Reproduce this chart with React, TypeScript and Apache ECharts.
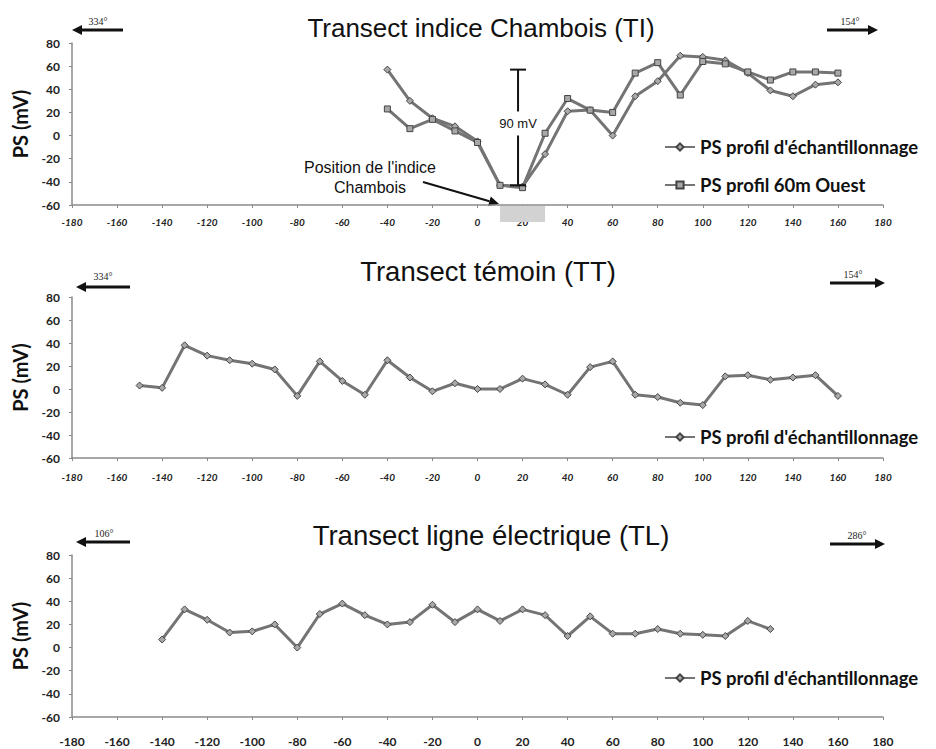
import React, { useEffect, useRef } from "react";
import * as echarts from "echarts";

// ---------- data ----------
const tiX = [-40, -30, -20, -10, 0, 10, 20, 30, 40, 50, 60, 70, 80, 90, 100, 110, 120, 130, 140, 150, 160];
const tiEchantillonnage = [57, 30, 15, 8, -5, -43, -44, -16, 21, 22, 0, 34, 47, 69, 68, 65, 54, 39, 34, 44, 46];
const tiOuest = [23, 6, 14, 4, -6, -43, -45, 2, 32, 22, 20, 54, 63, 35, 64, 62, 55, 48, 55, 55, 54];

const ttX = [-150, -140, -130, -120, -110, -100, -90, -80, -70, -60, -50, -40, -30, -20, -10, 0, 10, 20, 30, 40, 50, 60, 70, 80, 90, 100, 110, 120, 130, 140, 150, 160];
const ttEchantillonnage = [3, 1, 38, 29, 25, 22, 17, -6, 24, 7, -5, 25, 10, -2, 5, 0, 0, 9, 4, -5, 19, 24, -5, -7, -12, -14, 11, 12, 8, 10, 12, -6];

const tlX = [-140, -130, -120, -110, -100, -90, -80, -70, -60, -50, -40, -30, -20, -10, 0, 10, 20, 30, 40, 50, 60, 70, 80, 90, 100, 110, 120, 130];
const tlEchantillonnage = [7, 33, 24, 13, 14, 20, 0, 29, 38, 28, 20, 22, 37, 22, 33, 23, 33, 28, 10, 27, 12, 12, 16, 12, 11, 10, 23, 16];

const titles = ["Transect indice Chambois (TI)", "Transect témoin (TT)", "Transect ligne électrique (TL)"];
const bearingsLeft = ["334°", "334°", "106°"];
const bearingsRight = ["154°", "154°", "286°"];
const nameEch = "PS profil d'échantillonnage";
const nameOuest = "PS profil 60m Ouest";
const yName = "PS (mV)";
const annotationText = ["Position de l'indice", "Chambois"];
const barLabel = "90 mV";

// ---------- layout ----------
const GRID_LEFT = 72;
const GRID_W = 811;
const grids = [
  { top: 43, height: 162 },
  { top: 297, height: 161 },
  { top: 555, height: 162 },
];
const titleTops = [15, 257, 521];
const titleX = [481, 488, 491];
const titleSizes = [26, 27.5, 27.5];
const xLabelMargins = [12, 14, 18];
const arrowsL = [
  { y: 30, x1: 72, x2: 123, tx: 98, ty: 21 },
  { y: 287, x1: 76, x2: 130, tx: 103, ty: 276 },
  { y: 542, x1: 76, x2: 130, tx: 104, ty: 533 },
];
const arrowsR = [
  { y: 30, x1: 827, x2: 878, tx: 850, ty: 21 },
  { y: 283, x1: 830, x2: 885, tx: 853, ty: 274 },
  { y: 544, x1: 830, x2: 885, tx: 857, ty: 535 },
];
const legendPos = [
  { name: nameEch, top: 137 },
  { name: nameOuest, top: 175 },
  { name: nameEch, top: 427 },
  { name: nameEch, top: 668 },
];

const LINE_COLOR = "#747474";
const TICK_FONT = "Lato";

function arrowGraphic(x1: number, x2: number, y: number, left: boolean) {
  const tip = left ? x1 : x2;
  const base = left ? x1 + 10 : x2 - 10;
  return [
    {
      type: "line",
      shape: { x1: left ? base : x1, y1: y, x2: left ? x2 : base, y2: y },
      style: { stroke: "#111", lineWidth: 3 },
      silent: true,
    },
    {
      type: "polygon",
      shape: { points: [[tip, y], [base, y - 5], [base, y + 5]] },
      style: { fill: "#111" },
      silent: true,
    },
  ];
}

export default function App() {
  const ref = useRef<HTMLDivElement>(null);

  useEffect(() => {
    if (!ref.current) return;
    const chart = echarts.init(ref.current, null, { renderer: "svg" });

    const xAxes = grids.map((_, i) => ({
      type: "value",
      gridIndex: i,
      min: -180,
      max: 180,
      interval: 20,
      splitLine: { show: false },
      axisLine: { onZero: false, lineStyle: { color: "#8a8a8a", width: 1.5 } },
      axisTick: { show: true, length: 3, lineStyle: { color: "#8a8a8a" } },
      axisLabel: {
        margin: xLabelMargins[i],
        color: "#222",
        fontFamily: TICK_FONT,
        fontSize: i === 2 ? 12 : 10,
        fontStyle: i === 2 ? "normal" : "italic",
        fontWeight: "bold",
      },
    }));

    const yAxes = grids.map((_, i) => ({
      type: "value",
      gridIndex: i,
      min: -60,
      max: 80,
      interval: 20,
      name: yName,
      nameLocation: "middle",
      nameGap: 42,
      nameTextStyle: { fontFamily: TICK_FONT, fontWeight: "bold", fontSize: 20, color: "#111" },
      splitLine: { show: false },
      axisLine: { show: true, onZero: false, lineStyle: { color: "#8a8a8a", width: 1.5 } },
      axisTick: { show: true, length: 3, lineStyle: { color: "#8a8a8a" } },
      axisLabel: { margin: 12, color: "#222", fontFamily: TICK_FONT, fontWeight: "bold", fontSize: 12 },
    }));

    const lineBase = {
      type: "line",
      lineStyle: { color: LINE_COLOR, width: 3 },
      itemStyle: { color: "#a8a8a8", borderColor: "#444", borderWidth: 1 },
      symbolSize: 7,
      showSymbol: true,
      z: 3,
    };

    const series = [
      {
        ...lineBase,
        name: nameEch,
        xAxisIndex: 0,
        yAxisIndex: 0,
        symbol: "diamond",
        data: tiX.map((x, i) => [x, tiEchantillonnage[i]]),
      },
      {
        ...lineBase,
        name: nameOuest,
        xAxisIndex: 0,
        yAxisIndex: 0,
        symbol: "rect",
        symbolSize: 6,
        data: tiX.map((x, i) => [x, tiOuest[i]]),
      },
      {
        ...lineBase,
        name: nameEch,
        xAxisIndex: 1,
        yAxisIndex: 1,
        symbol: "diamond",
        data: ttX.map((x, i) => [x, ttEchantillonnage[i]]),
      },
      {
        ...lineBase,
        name: nameEch,
        xAxisIndex: 2,
        yAxisIndex: 2,
        symbol: "diamond",
        data: tlX.map((x, i) => [x, tlEchantillonnage[i]]),
      },
    ];

    const option: any = {
      animation: false,
      backgroundColor: "#fff",
      title: titles.map((t, i) => ({
        text: t,
        left: titleX[i],
        top: titleTops[i],
        textAlign: "center",
        padding: 0,
        textStyle: { fontFamily: "Liberation Sans", fontWeight: "normal", fontSize: titleSizes[i], color: "#111" },
      })),
      grid: grids.map((g) => ({ left: GRID_LEFT, width: GRID_W, top: g.top, height: g.height })),
      xAxis: xAxes,
      yAxis: yAxes,
      legend: legendPos.map((l) => ({
        data: [l.name],
        left: 664,
        top: l.top,
        padding: 0,
        orient: "vertical",
        itemWidth: 30,
        itemHeight: 9,
        selectedMode: false,
        textStyle: { fontFamily: TICK_FONT, fontWeight: "bold", fontSize: 18.5, color: "#111", lineHeight: 20 },
      })),
      series,
    };

    chart.setOption(option);

    // annotations placed through the axes' own scales
    const p = (x: number, y: number) => chart.convertToPixel({ gridIndex: 0 }, [x, y]) as number[];
    const barBottom = p(18, -43);
    const barTop = p(18, 57);
    const boxA = p(10, -60);
    const boxB = p(30, -60);
    const graphics: any[] = [];

    // 90 mV bar
    const midY = (barTop[1] + barBottom[1]) / 2 - 4;
    graphics.push(
      { type: "line", shape: { x1: barTop[0], y1: barTop[1], x2: barTop[0], y2: midY - 12 }, style: { stroke: "#111", lineWidth: 2 }, z: 10 },
      { type: "line", shape: { x1: barTop[0], y1: midY + 12, x2: barTop[0], y2: barBottom[1] }, style: { stroke: "#111", lineWidth: 2 }, z: 10 },
      { type: "line", shape: { x1: barTop[0] - 8, y1: barTop[1], x2: barTop[0] + 8, y2: barTop[1] }, style: { stroke: "#111", lineWidth: 2 }, z: 10 },
      { type: "line", shape: { x1: barBottom[0] - 8, y1: barBottom[1], x2: barBottom[0] + 8, y2: barBottom[1] }, style: { stroke: "#111", lineWidth: 2 }, z: 10 },
      {
        type: "text",
        x: barTop[0],
        y: midY,
        style: { text: barLabel, fontFamily: "Liberation Sans", fontSize: 13, fill: "#111", align: "center", verticalAlign: "middle" },
        z: 10,
      }
    );

    // shaded position box
    graphics.push({
      type: "rect",
      shape: { x: boxA[0], y: boxA[1] + 1, width: boxB[0] - boxA[0], height: 16 },
      style: { fill: "#d2d2d2" },
      z: 1,
    });

    // annotation text + arrow
    graphics.push(
      {
        type: "text",
        x: 370,
        y: 167,
        style: { text: annotationText[0], fontFamily: "Liberation Sans", fontSize: 16, fill: "#111", align: "center", verticalAlign: "middle" },
      },
      {
        type: "text",
        x: 370,
        y: 187,
        style: { text: annotationText[1], fontFamily: "Liberation Sans", fontSize: 16, fill: "#111", align: "center", verticalAlign: "middle" },
      }
    );
    const ax1 = 423, ay1 = 182;
    const ax2 = boxA[0] - 1, ay2 = boxA[1] - 1;
    const ang = Math.atan2(ay2 - ay1, ax2 - ax1);
    const hb = [ax2 - 10 * Math.cos(ang), ay2 - 10 * Math.sin(ang)];
    graphics.push(
      { type: "line", shape: { x1: ax1, y1: ay1, x2: hb[0], y2: hb[1] }, style: { stroke: "#111", lineWidth: 2 } },
      {
        type: "polygon",
        shape: {
          points: [
            [ax2, ay2],
            [hb[0] + 5 * Math.sin(ang), hb[1] - 5 * Math.cos(ang)],
            [hb[0] - 5 * Math.sin(ang), hb[1] + 5 * Math.cos(ang)],
          ],
        },
        style: { fill: "#111" },
      }
    );

    // bearing arrows
    arrowsL.forEach((a, i) => {
      graphics.push(...arrowGraphic(a.x1, a.x2, a.y, true));
      graphics.push({
        type: "text",
        x: a.tx,
        y: a.ty,
        style: { text: bearingsLeft[i], fontFamily: "Liberation Serif", fontSize: 10, fill: "#222", align: "center", verticalAlign: "middle" },
      });
    });
    arrowsR.forEach((a, i) => {
      graphics.push(...arrowGraphic(a.x1, a.x2, a.y, false));
      graphics.push({
        type: "text",
        x: a.tx,
        y: a.ty,
        style: { text: bearingsRight[i], fontFamily: "Liberation Serif", fontSize: 10, fill: "#222", align: "center", verticalAlign: "middle" },
      });
    });

    chart.setOption({ graphic: graphics });

    return () => chart.dispose();
  }, []);

  return (
    <div
      ref={ref}
      style={{ position: "fixed", left: 0, top: 0, width: 936, height: 749, background: "#fff" }}
    />
  );
}
